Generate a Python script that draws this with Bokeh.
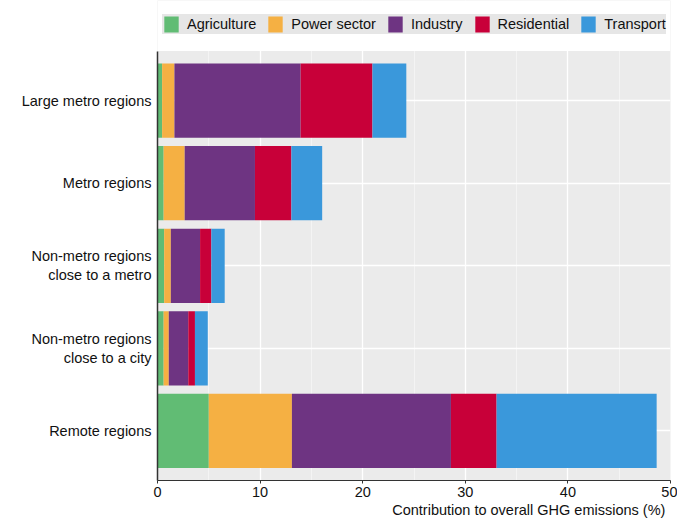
from bokeh.plotting import figure
from bokeh.models import (ColumnDataSource, Legend, LegendItem, SingleIntervalTicker,
                          FixedTicker, Range1d, BoxAnnotation)
from bokeh.embed import file_html
from bokeh.resources import INLINE

categories = ["Large metro regions", "Metro regions",
              "Non-metro regions\nclose to a metro",
              "Non-metro regions\nclose to a city", "Remote regions"]
sectors = ["Agriculture", "Power sector", "Industry", "Residential", "Transport"]
agriculture = [0.45, 0.6, 0.65, 0.6, 5.0]
power_sector = [1.2, 2.05, 0.65, 0.5, 8.1]
industry = [12.3, 6.85, 2.85, 1.9, 15.5]
residential = [7.0, 3.55, 1.1, 0.65, 4.45]
transport = [3.3, 3.0, 1.3, 1.25, 15.6]
colors = ["#61BC74", "#F5B043", "#6E3482", "#C80039", "#3A98DB"]
x_label = "Contribution to overall GHG emissions (%)"

FONT = "Liberation Sans"

n = len(categories)
ypos = [n - 1 - i for i in range(n)]  # first category on top

source = ColumnDataSource(dict(y=ypos, Agriculture=agriculture,
                               **{"Power sector": power_sector},
                               Industry=industry, Residential=residential,
                               Transport=transport))

p = figure(width=677, height=520, output_backend="svg", toolbar_location=None,
           y_range=Range1d(-0.6, n - 0.4 + 0.6125), x_range=Range1d(0, 50),
           min_border_left=157, min_border_top=0, min_border_right=7, min_border_bottom=36)
p.background_fill_color = "#EBEBEB"
p.border_fill_color = "white"
p.outline_line_color = None

renderers = p.hbar_stack(sectors, y="y", height=0.9, color=colors, source=source,
                         line_color=None)

# white band above the data area, where the legend sits
p.add_layout(BoxAnnotation(bottom=n - 0.4, fill_color="white", fill_alpha=1.0,
                           line_color=None, level="annotation"))

legend = Legend(items=[LegendItem(label=s, renderers=[r]) for s, r in zip(sectors, renderers)],
                orientation="horizontal", location=(5, 446),
                background_fill_color="#E6E6E6", background_fill_alpha=1.0,
                border_line_color=None, label_text_font=FONT, label_text_font_size="14.5px",
                label_text_color="#111111", glyph_width=18, glyph_height=20,
                label_standoff=7, spacing=10, padding=5, margin=0)
p.add_layout(legend, "center")

p.xaxis.ticker = SingleIntervalTicker(interval=10, num_minor_ticks=2)
p.xgrid.grid_line_color = "white"
p.xgrid.grid_line_width = 1.3
p.xgrid.minor_grid_line_color = "#F4F4F4"
p.xgrid.minor_grid_line_width = 1

p.yaxis.ticker = FixedTicker(ticks=ypos)
p.yaxis.major_label_overrides = {y: c for y, c in zip(ypos, categories)}
p.yaxis.bounds = (-0.6, n - 0.4)
p.ygrid.grid_line_color = "white"
p.ygrid.grid_line_width = 1.3

p.xaxis.axis_line_color = "#333333"
p.xaxis.major_tick_line_color = "#333333"
p.xaxis.major_tick_out = 3
p.xaxis.major_tick_in = 0
p.xaxis.minor_tick_line_color = None
p.xaxis.major_label_standoff = 2
p.xaxis.major_label_text_font = FONT
p.xaxis.major_label_text_font_size = "14.5px"
p.xaxis.major_label_text_color = "#111111"
# centred axis label, pushed to the right end with leading no-break spaces
p.xaxis.axis_label = "\u00a0" * 57 + x_label
p.xaxis.axis_label_standoff = 2
p.xaxis.axis_label_text_font = FONT
p.xaxis.axis_label_text_font_size = "14.5px"
p.xaxis.axis_label_text_font_style = "normal"
p.xaxis.axis_label_text_color = "#111111"
p.xaxis.axis_label_align = "center"

p.yaxis.axis_line_color = "#333333"
p.yaxis.axis_line_width = 1.5
p.yaxis.major_tick_line_color = None
p.yaxis.minor_tick_line_color = None
p.yaxis.major_label_standoff = 0
p.yaxis.major_label_text_font = FONT
p.yaxis.major_label_text_font_size = "14.5px"
p.yaxis.major_label_text_color = "#111111"
p.yaxis.major_label_text_align = "right"

open("out.html", "w").write(file_html(p, INLINE))
